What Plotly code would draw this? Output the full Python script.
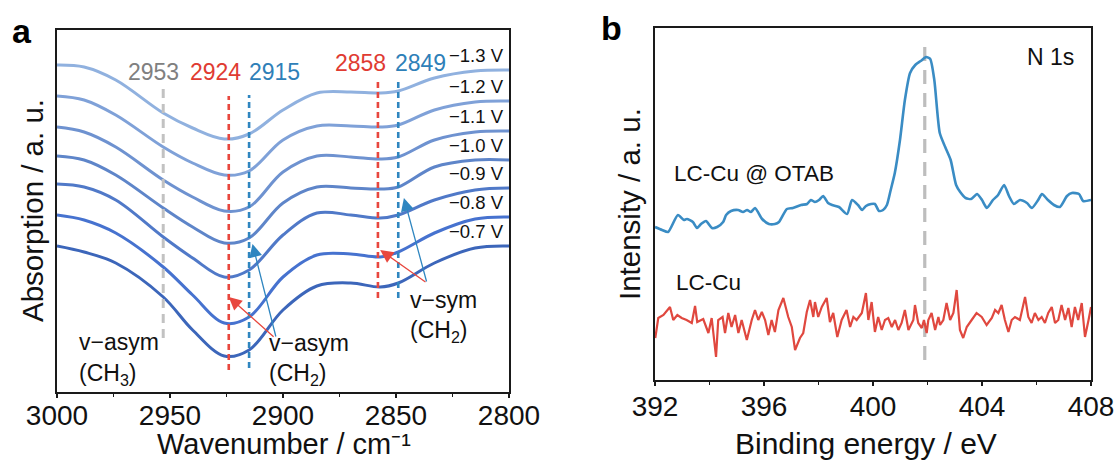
import plotly.graph_objects as go

W, H = 1118, 461
FONT = "Liberation Sans, Arial, sans-serif"

# ---------------- panel a: IR spectra at different potentials ----------------
wavenumber = [3000, 2988, 2974, 2953, 2940, 2926, 2915, 2900, 2885, 2870, 2857, 2849, 2833, 2815, 2800]
potentials = ["−1.3 V", "−1.2 V", "−1.1 V", "−1.0 V", "−0.9 V", "−0.8 V", "−0.7 V"]
abs_m13 = [3.27, 3.25, 3.12, 2.79, 2.64, 2.53, 2.58, 2.82, 2.99, 3.00, 2.99, 3.01, 3.14, 3.21, 3.22]
abs_m12 = [2.96, 2.92, 2.77, 2.45, 2.29, 2.17, 2.21, 2.52, 2.66, 2.66, 2.65, 2.67, 2.82, 2.90, 2.91]
abs_m11 = [2.65, 2.60, 2.45, 2.12, 1.95, 1.81, 1.85, 2.20, 2.36, 2.35, 2.33, 2.35, 2.52, 2.60, 2.61]
abs_m10 = [2.36, 2.32, 2.17, 1.84, 1.65, 1.49, 1.54, 1.89, 2.05, 2.04, 2.03, 2.05, 2.25, 2.32, 2.32]
abs_m09 = [2.08, 2.05, 1.92, 1.55, 1.34, 1.15, 1.22, 1.57, 1.79, 1.77, 1.74, 1.77, 1.92, 2.02, 2.04]
abs_m08 = [1.77, 1.72, 1.59, 1.25, 0.97, 0.69, 0.75, 1.15, 1.37, 1.38, 1.35, 1.40, 1.59, 1.73, 1.75]
abs_m07 = [1.46, 1.40, 1.29, 0.95, 0.62, 0.36, 0.42, 0.82, 1.06, 1.09, 1.05, 1.09, 1.29, 1.44, 1.46]
spectra = [abs_m13, abs_m12, abs_m11, abs_m10, abs_m09, abs_m08, abs_m07]
curve_colors = ["#90b1df", "#7fa1d8", "#6e92d0", "#5e85c9", "#5079c8", "#4672cf", "#3c66ba"]

# characteristic band positions (cm-1): label, colour, vertical extent
band_pos = [2953, 2924, 2915, 2858, 2849]
band_colors = ["#c2c2c2", "#e8473e", "#2f86c0"]
band_text_colors = ["#808080", "#e03b32", "#2e80b8"]
band_kind = [0, 1, 2, 1, 2]
band_top = [3.04, 2.96, 2.97, 3.14, 3.14]
band_bottom = [0.54, 0.22, 0.24, 0.94, 0.94]

# ---------------- panel b: N 1s XPS ----------------
be_otab = [392.00, 392.26, 392.48, 392.84, 393.06, 393.17, 393.39, 393.54, 393.69, 393.87,
           394.09, 394.28, 394.50, 394.61, 394.79, 395.05, 395.23, 395.38, 395.52, 395.67,
           395.93, 396.18, 396.40, 396.55, 396.84, 397.06, 397.36, 397.58, 397.72, 397.87,
           398.02, 398.17, 398.35, 398.50, 398.75, 399.05, 399.23, 399.45, 399.60, 399.74,
           399.93, 400.07, 400.22, 400.37, 400.51, 400.65, 400.80, 400.99, 401.17, 401.36,
           401.55, 401.75, 401.95, 402.10, 402.25, 402.45, 402.65, 402.85, 403.05, 403.20,
           403.40, 403.60, 403.82, 404.00, 404.18, 404.40, 404.59, 404.81, 404.99, 405.17,
           405.39, 405.65, 405.83, 406.06, 406.20, 406.42, 406.64, 406.86, 407.12, 407.30,
           407.56, 407.71, 408.00]
int_otab = [1.53, 1.50, 1.48, 1.65, 1.60, 1.61, 1.58, 1.52, 1.56, 1.59,
            1.52, 1.53, 1.58, 1.65, 1.69, 1.70, 1.68, 1.70, 1.68, 1.72,
            1.61, 1.56, 1.56, 1.58, 1.71, 1.72, 1.75, 1.76, 1.80, 1.78,
            1.80, 1.84, 1.77, 1.75, 1.73, 1.66, 1.80, 1.75, 1.70, 1.74,
            1.76, 1.76, 1.69, 1.70, 1.75, 1.90, 2.07, 2.40, 2.80, 3.07,
            3.15, 3.19, 3.23, 3.21, 3.00, 2.47, 2.33, 2.20, 1.95, 1.88,
            1.82, 1.81, 1.86, 1.80, 1.72, 1.80, 1.85, 1.95, 1.84, 1.76,
            1.80, 1.77, 1.72, 1.80, 1.86, 1.80, 1.75, 1.73, 1.84, 1.87,
            1.86, 1.79, 1.80]

be_cu = [392.01, 392.12, 392.31, 392.55, 392.67, 392.82, 392.98, 393.16, 393.35, 393.47,
         393.55, 393.77, 393.96, 394.08, 394.24, 394.32, 394.48, 394.57, 394.69, 394.81,
         394.94, 395.06, 395.18, 395.37, 395.55, 395.67, 395.79, 395.92, 396.04, 396.16,
         396.28, 396.40, 396.53, 396.71, 396.89, 397.02, 397.14, 397.32, 397.44, 397.57,
         397.69, 397.81, 397.87, 397.99, 398.12, 398.30, 398.42, 398.54, 398.69, 398.85,
         399.03, 399.16, 399.28, 399.40, 399.59, 399.74, 399.83, 399.95, 400.07, 400.19,
         400.32, 400.44, 400.56, 400.69, 400.81, 400.93, 401.05, 401.17, 401.30, 401.48,
         401.54, 401.66, 401.79, 401.87, 401.97, 402.03, 402.15, 402.28, 402.40, 402.46,
         402.58, 402.70, 402.83, 402.95, 403.07, 403.19, 403.31, 403.44, 403.62, 403.80,
         403.99, 404.17, 404.36, 404.48, 404.60, 404.72, 404.84, 404.97, 405.09, 405.21,
         405.39, 405.58, 405.70, 405.82, 405.94, 406.07, 406.19, 406.31, 406.43, 406.56,
         406.68, 406.80, 406.92, 407.05, 407.17, 407.29, 407.41, 407.53, 407.66, 407.78,
         407.91, 408.00]
int_cu = [0.42, 0.62, 0.65, 0.73, 0.60, 0.65, 0.62, 0.60, 0.57, 0.74,
          0.58, 0.61, 0.47, 0.62, 0.23, 0.60, 0.63, 0.47, 0.67, 0.53,
          0.65, 0.47, 0.60, 0.40, 0.60, 0.70, 0.60, 0.68, 0.60, 0.45,
          0.60, 0.48, 0.70, 0.82, 0.63, 0.53, 0.30, 0.42, 0.47, 0.68,
          0.80, 0.63, 0.78, 0.63, 0.73, 0.82, 0.58, 0.67, 0.43, 0.60,
          0.70, 0.53, 0.63, 0.60, 0.67, 0.87, 0.60, 0.78, 0.48, 0.63,
          0.50, 0.60, 0.62, 0.53, 0.60, 0.50, 0.57, 0.70, 0.50, 0.60,
          0.75, 0.57, 0.52, 0.60, 0.47, 0.60, 0.67, 0.50, 0.63, 0.55,
          0.60, 0.77, 0.60, 0.67, 0.90, 0.50, 0.42, 0.53, 0.60, 0.67,
          0.63, 0.55, 0.62, 0.70, 0.67, 0.75, 0.60, 0.48, 0.60, 0.63,
          0.60, 0.83, 0.63, 0.57, 0.67, 0.60, 0.63, 0.57, 0.67, 0.73,
          0.57, 0.60, 0.75, 0.60, 0.72, 0.53, 0.73, 0.60, 0.77, 0.43,
          0.60, 0.73]
n1s_center = 401.9


def px(x):
    return x / W


def py(y):
    return 1 - y / H


fig = go.Figure()

for vals, col in zip(spectra, curve_colors):
    fig.add_trace(go.Scatter(x=wavenumber, y=vals, mode="lines", xaxis="x", yaxis="y",
                             line=dict(color=col, width=3, shape="spline", smoothing=1.0),
                             showlegend=False, hoverinfo="skip"))

fig.add_trace(go.Scatter(x=be_otab, y=int_otab, mode="lines", xaxis="x2", yaxis="y2",
                         line=dict(color="#3a8cc4", width=2.6, shape="spline", smoothing=0.6),
                         showlegend=False, hoverinfo="skip"))
fig.add_trace(go.Scatter(x=be_cu, y=int_cu, mode="lines", xaxis="x2", yaxis="y2",
                         line=dict(color="#e0483f", width=2.2),
                         showlegend=False, hoverinfo="skip"))

shapes = []
for pos, kind, top, bot in zip(band_pos, band_kind, band_top, band_bottom):
    shapes.append(dict(type="line", xref="x", yref="y", x0=pos, x1=pos, y0=bot, y1=top,
                       line=dict(color=band_colors[kind], width=3 if kind == 0 else 2.6,
                                 dash="9px,6px" if kind == 0 else "6px,4px"),
                       opacity=1, layer="above"))
shapes.append(dict(type="line", xref="x2", yref="y2", x0=n1s_center, x1=n1s_center,
                   y0=0.20, y1=3.37, line=dict(color="#bdbdbd", width=3.2, dash="14px,9px"),
                   opacity=1, layer="below"))

ann = []
txt = dict(family=FONT, color="#111111")

# band position labels
band_label_xy = [(154, 72), (215, 72), (274, 72), (360, 63), (420, 63)]
for pos, kind, (lx, ly) in zip(band_pos, band_kind, band_label_xy):
    ann.append(dict(xref="paper", yref="paper", x=px(lx), y=py(ly), text=str(pos),
                    showarrow=False, xanchor="center", yanchor="middle",
                    font=dict(family=FONT, size=23, color=band_text_colors[kind])))

# potential labels at right end of each spectrum
for vals, lab in zip(spectra, potentials):
    ann.append(dict(xref="x", yref="y", x=2800, y=vals[-1], text=lab, showarrow=False,
                    xanchor="right", yanchor="bottom", xshift=-3, yshift=2,
                    font=dict(txt, size=18.5)))

# assignment labels
for text, lx, ly in [("v−asym", 77, 342), ("(CH<sub>3</sub>)", 77, 374),
                     ("v−asym", 267, 343), ("(CH<sub>2</sub>)", 267, 374),
                     ("v−sym", 408, 300), ("(CH<sub>2</sub>)", 408, 331)]:
    ann.append(dict(xref="paper", yref="paper", x=px(lx), y=py(ly), text=text,
                    showarrow=False, xanchor="left", yanchor="middle",
                    font=dict(txt, size=23)))

# arrows from assignment labels to the band lines
for hx, hy, tx, ty, col in [(2924.0, 0.95, 2903.5, 0.54, "#e8473e"),
                            (2913.5, 1.48, 2903.0, 0.54, "#2f86c0"),
                            (2857.0, 1.42, 2836.3, 1.09, "#e8473e"),
                            (2846.5, 1.94, 2836.3, 1.09, "#2f86c0")]:
    ann.append(dict(xref="x", yref="y", axref="x", ayref="y", x=hx, y=hy, ax=tx, ay=ty,
                    text="", showarrow=True, arrowhead=2, arrowsize=2.0, arrowwidth=1.3,
                    arrowcolor=col))

# panel b labels
ann.append(dict(xref="paper", yref="paper", x=px(1050), y=py(57), text="N 1s", showarrow=False,
                xanchor="center", yanchor="middle", font=dict(txt, size=23)))
ann.append(dict(xref="paper", yref="paper", x=px(672), y=py(173), text="LC-Cu @ OTAB",
                showarrow=False, xanchor="left", yanchor="middle", font=dict(txt, size=22.5)))
ann.append(dict(xref="paper", yref="paper", x=px(674), y=py(282), text="LC-Cu",
                showarrow=False, xanchor="left", yanchor="middle", font=dict(txt, size=22.5)))

# axis titles
ann.append(dict(xref="paper", yref="paper", x=px(284), y=py(444),
                text="Wavenumber / cm⁻¹", showarrow=False,
                xanchor="center", yanchor="middle", font=dict(txt, size=29)))
ann.append(dict(xref="paper", yref="paper", x=px(866), y=py(443),
                text="Binding energy / eV", showarrow=False,
                xanchor="center", yanchor="middle", font=dict(txt, size=30)))
ann.append(dict(xref="paper", yref="paper", x=px(32), y=py(211),
                text="Absorption / a. u.", showarrow=False, textangle=-90,
                xanchor="center", yanchor="middle", font=dict(txt, size=29.5)))
ann.append(dict(xref="paper", yref="paper", x=px(629), y=py(204),
                text="Intensity / a. u.", showarrow=False, textangle=-90,
                xanchor="center", yanchor="middle", font=dict(txt, size=29.5)))

# panel letters
ann.append(dict(xref="paper", yref="paper", x=px(22), y=py(31), text="<b>a</b>",
                showarrow=False, xanchor="center", yanchor="middle",
                font=dict(family=FONT, size=34, color="#000000")))
ann.append(dict(xref="paper", yref="paper", x=px(611), y=py(28), text="<b>b</b>",
                showarrow=False, xanchor="center", yanchor="middle",
                font=dict(family=FONT, size=34, color="#000000")))

axis_common = dict(showline=True, linecolor="#1a1a1a", linewidth=2, mirror=True,
                   showgrid=False, zeroline=False, automargin=False)

fig.update_layout(
    template="simple_white",
    width=W, height=H, margin=dict(l=0, r=0, t=0, b=0, pad=0, autoexpand=False),
    paper_bgcolor="white", plot_bgcolor="white", showlegend=False,
    font=dict(family=FONT, color="#111111"),
    xaxis=dict(axis_common, domain=[px(57), px(509)], range=[3000, 2800], anchor="y",
               tickmode="linear", tick0=2800, dtick=50, ticks="outside", ticklen=4,
               tickwidth=1.5, tickcolor="#1a1a1a", tickfont=dict(size=28),
               ticklabelstandoff=-7,
               minor=dict(dtick=25, tick0=2800, ticks="outside", ticklen=3, tickwidth=1.2,
                          tickcolor="#1a1a1a")),
    yaxis=dict(axis_common, domain=[py(392), py(30)], range=[0, 3.62], anchor="x",
               showticklabels=False, ticks=""),
    xaxis2=dict(axis_common, domain=[px(655), px(1091)], range=[392, 408], anchor="y2",
                tickmode="linear", tick0=392, dtick=4, ticks="outside", ticklen=4,
                tickwidth=1.5, tickcolor="#1a1a1a", tickfont=dict(size=28),
                ticklabelstandoff=-4,
                minor=dict(dtick=2, tick0=392, ticks="outside", ticklen=3, tickwidth=1.2,
                           tickcolor="#1a1a1a")),
    yaxis2=dict(axis_common, domain=[py(380), py(28)], range=[0, 3.52], anchor="x2",
                showticklabels=False, ticks=""),
    shapes=shapes,
    annotations=ann,
)

fig.write_html("out.html")
